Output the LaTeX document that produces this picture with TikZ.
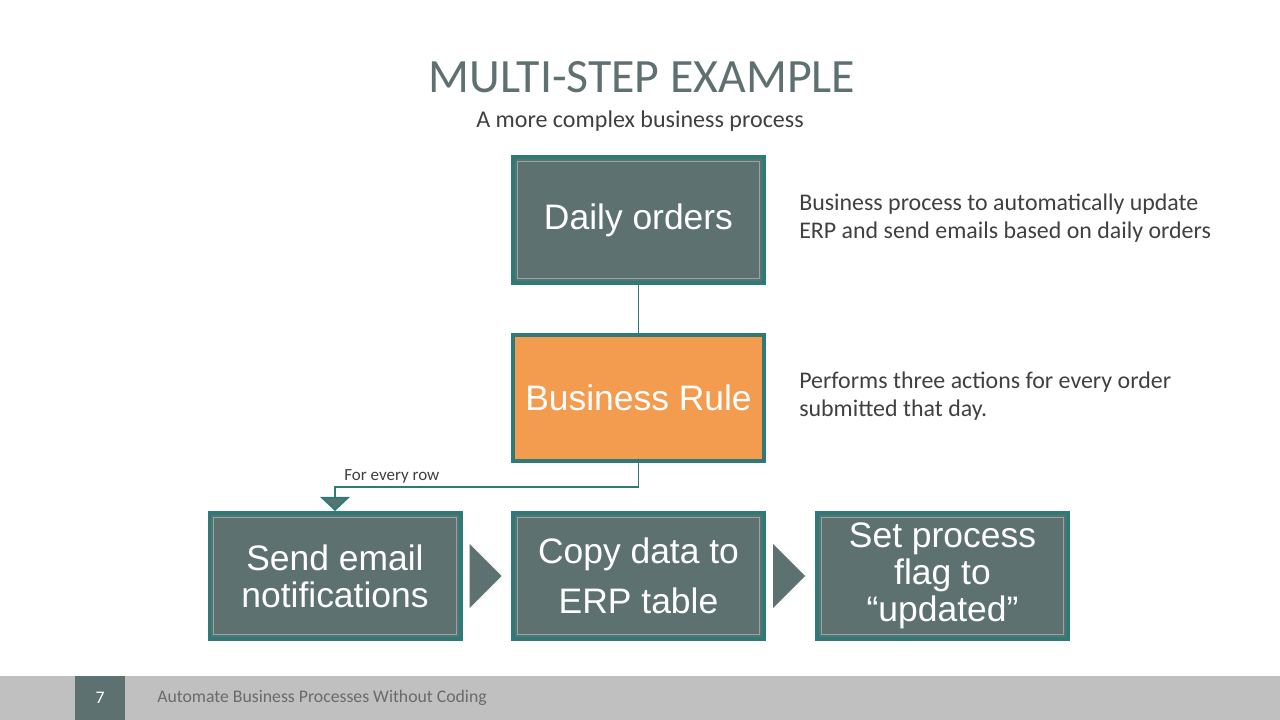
\documentclass[tikz,border=0pt]{standalone}
\usepackage{fontspec}
\setmainfont{Carlito}
\newfontfamily\boxfont{Liberation Sans}
\usetikzlibrary{positioning,arrows.meta}
\definecolor{slate}{HTML}{5E7171}
\definecolor{tealline}{HTML}{2E7A77}
\definecolor{innerline}{HTML}{93A8A5}
\definecolor{rulefill}{HTML}{F39B4E}
\definecolor{titlegray}{HTML}{5E7070}
\definecolor{textgray}{HTML}{404040}
\definecolor{footgray}{HTML}{C0C0C0}
\definecolor{foottext}{HTML}{6A6A6A}

\begin{document}
\begin{tikzpicture}[x=0.025cm, y=-0.025cm,
		stepbox/.style={draw=tealline, line width=2.8pt, fill=slate, minimum width=6.275cm, minimum height=3.15cm,
			text=white, align=center, font=\boxfont\fontsize{25.2}{26.5}\selectfont,
			path picture={\draw[innerline, line width=0.8pt] ([shift={(3pt,3pt)}]path picture bounding box.south west) rectangle ([shift={(-3pt,-3pt)}]path picture bounding box.north east);}},
		note/.style={align=left, anchor=west, text=textgray, font=\fontsize{17}{19.5}\selectfont, inner sep=0pt},
		link/.style={draw=tealline, line width=1.4pt},
		chevron/.style={fill=slate}]
		% \draw[help lines] (0,0) grid (1280,720);
		\useasboundingbox[fill=white] (0,0) rectangle (1280,720);

		\node (title) at (642, 77) [text=titlegray, font=\fontsize{34}{37}\selectfont] {MULTI-STEP EXAMPLE};
		\node (sub) at (640, 121) [text=textgray, font=\fontsize{17.1}{19}\selectfont] {A more complex business process};

		\node[stepbox] (daily) at (638.5, 220) {Daily orders};
		\node[stepbox, fill=rulefill, path picture={}] (rule) at (638.5, 398) {Business Rule};
		\node[stepbox] (send) at (335, 576) {Send email\\notifications};
		\node[stepbox, font=\boxfont\fontsize{25.2}{35.5}\selectfont] (copy) at (638.5, 576) {Copy data to\\ERP table};
		\node[stepbox, text depth=0.55em] (flag) at (942.5, 576) {Set process\\flag to\\“updated”};

		\node[note] (dailynote) at (799, 218) {Business process to automatically update\\ERP and send emails based on daily orders};
		\node[note] (rulenote) at (799, 396) {Performs three actions for every order\\submitted that day.};

		\draw[link] (daily) -- (rule);
		\coordinate (turn) at (638.5, 487);
		\draw[link, -{Triangle[width=21pt, length=10pt, fill=slate]}] (rule) -- (turn) -| (send.north);
		\node (row) at (344, 476) [anchor=west, inner sep=0pt, text=textgray, font=\fontsize{12.1}{14}\selectfont] {For every row};

		\fill[chevron] ([xshift=5pt]send.east) ++(0,-32) -- ++(32,32) -- ++(-32,32) -- cycle;
		\fill[chevron] ([xshift=5pt]copy.east) ++(0,-32) -- ++(32,32) -- ++(-32,32) -- cycle;

		% footer
		\fill[footgray] (0,676) rectangle (1280,720);
		\fill[slate] (75,676) rectangle (125,720);
		\node (page) at (100, 698) [text=white, font=\fontsize{12.6}{14}\selectfont] {7};
		\node (foot) at (157, 698) [anchor=west, inner sep=0pt, text=foottext, font=\fontsize{12.6}{14}\selectfont] {Automate Business Processes Without Coding};
	\end{tikzpicture}
\end{document}
